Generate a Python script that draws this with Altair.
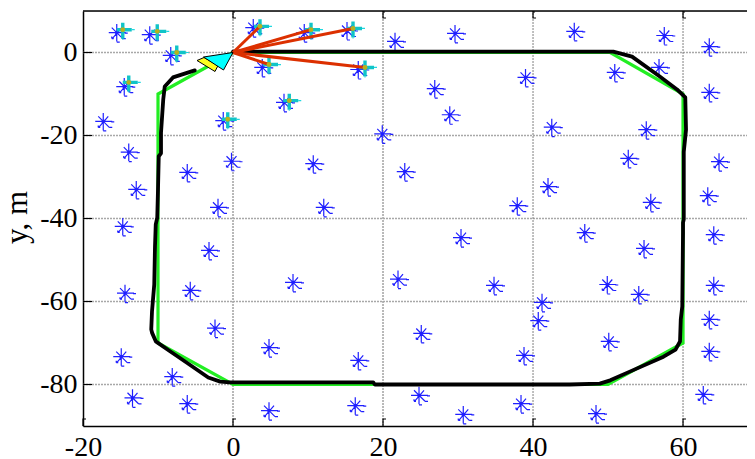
import altair as alt
import pandas as pd

x_ticks = [-20, 0, 20, 40, 60]
y_ticks = [0, -20, -40, -60, -80]
x_min, x_max = -20, 68.53
y_min, y_max = -90, 10

star_x = [-15.5, -11.1, -8.3, -14.5, -17.3, -1.3, 2.7, 3.9, 9.5, 15.2, 16.7, 6.8, 19.9,
          45.5, 57.5, 63.5, 50.9, 56.8, 63.5, 55.1, 21.6, 29.6, 26.9, 28.9, 39.0, 42.5,
          10.7, 22.9, 12.1, 30.4, -0.2, -13.9, -12.9, -14.7, -14.4, -6.1, -2.0, -3.2, -5.7, -2.4,
          52.7, 64.8, 42.0, 63.3, 37.9, 55.7, 46.9, 64.1, 54.8, 34.8, 49.9, 64.1, 54.1, 41.2, 63.5,
          8.0, 22.0, 40.7, 25.1, 4.8, 16.7, 38.8, 4.8, 16.3, 24.8, 30.7, 38.4,
          50.1, 63.5, 62.7, 48.4, -14.9, -8.1, -13.4, -6.1]
star_y = [4.8, 4.3, -0.7, -8.2, -16.6, -16.4, 6.0, -3.6, 4.8, 5.3, -4.1, -12.0, -19.6,
          5.1, 4.1, 1.4, -4.8, -3.6, -9.6, -18.6, 2.7, 4.6, -8.7, -15.0, -6.0, -18.0,
          -26.8, -28.7, -37.3, -44.6, -26.2, -24.0, -33.0, -41.9, -58.0, -28.9, -37.3, -47.7, -57.3, -66.4,
          -25.5, -26.3, -32.3, -34.5, -36.9, -36.1, -43.4, -43.9, -47.2, -56.1, -55.9, -56.1, -58.3, -60.2, -64.3,
          -55.4, -54.6, -64.6, -67.7, -71.1, -74.2, -73.0, -86.3, -85.1, -82.6, -87.2, -84.6,
          -69.6, -72.0, -82.4, -87.0, -73.3, -78.1, -83.2, -84.6]

seen_x = [-14.7, -10.1, -7.5, -13.9, -0.7, 3.6, 4.8, 10.4, 16.0, 17.6, 7.5]
seen_y = [5.5, 5.1, 0.0, -7.2, -16.1, 6.3, -2.9, 5.5, 5.8, -3.6, -11.6]

ray_x = [3.6, 4.8, 10.4, 16.0, 17.6]
ray_y = [6.3, -2.9, 5.5, 5.8, -3.6]

ref_x = [0, 50.3, 60, 60, 50, 0, -10, -10, 0]
ref_y = [0, 0, -10, -70, -80, -80, -70, -10, 0]

est_x = [0, 50.7, 53.2, 56.9, 59.2, 60.3, 60.4, 60.1, 60.1, 60.0, 60.0, 59.9, 59.7, 59.6, 59.0, 57.4,
         52.9, 50.3, 48.9, 44.9, 18.9, 18.7, 16.0, -0.4, -1.7, -3.3, -6.2, -8.4, -10.3, -10.8,
         -10.9, -10.8, -10.5, -10.4, -10.3, -10.1, -10.0, -9.9, -9.6, -9.6, -9.6, -9.3, -9.1, -8.0, -5.1]
est_y = [0.2, 0.2, -1.0, -5.8, -8.9, -10.8, -18.6, -23.9, -40.2, -41.0, -43.4, -61.2, -64.3, -69.6, -71.6, -73.3,
         -76.9, -79.0, -79.8, -80.0, -80.0, -79.5, -79.5, -79.5, -79.3, -78.3, -74.7, -72.0, -69.6, -67.5,
         -66.7, -62.4, -55.9, -46.7, -41.4, -39.8, -33.0, -25.0, -24.3, -20.0, -19.3, -11.3, -8.2, -6.0, -4.3]

FONT = "Liberation Serif"
STAR = ("M-8 0L9 0M0-8.5L0 9M-5-5L6 6M5-5L-4.5 6M8 0.5L11 0.5M6 6L9 6"
        "M0 9.5L3 9.5M-5 6L-3 6M-5 4L-5 6M-1-1L1-1L1 1L-1 1Z")
PLUS_BAR = "M-6 0L9 0M0-7L0 9"
PLUS_TIP = "M9 0L12 0M0 9L0 10"
TRI = "M0 0L-29.5 4.5L-9.5 17.5Z"
RECT = "M-36 8L-29 5L-15 13L-18 19Z"

sx = alt.Scale(domain=[x_min, x_max], nice=False, zero=False)
sy = alt.Scale(domain=[y_min, y_max], nice=False, zero=False)

axis_x = alt.Axis(values=x_ticks, grid=False, ticks=False, title=None, labelFont=FONT, labelFontSize=28,
                  labelColor="black", labelPadding=7, labelExpr="'' + datum.value", domainColor="black",
                  domainWidth=1.5, labelFlush=False, labelOverlap=False)
axis_y = alt.Axis(values=y_ticks, grid=False, ticks=False, title="y, m", titleFont=FONT, titleFontSize=31,
                  titleFontWeight="normal", titleColor="black", titleX=-50, titleY=206, titleAngle=270,
                  labelFont=FONT, labelFontSize=28, labelColor="black", labelPadding=6,
                  labelExpr="'' + datum.value", domainColor="black", domainWidth=1.5,
                  labelFlush=False, labelOverlap=False)


def X(field="x"):
    return alt.X(f"{field}:Q", scale=sx, axis=axis_x)


def Y(field="y"):
    return alt.Y(f"{field}:Q", scale=sy, axis=axis_y)


stars = pd.DataFrame({"x": star_x, "y": star_y})
seen = pd.DataFrame({"x": seen_x, "y": seen_y})
rays = pd.DataFrame({"x": ray_x, "y": ray_y, "x0": [0] * 5, "y0": [0] * 5})
ref = pd.DataFrame({"x": ref_x, "y": ref_y, "i": range(len(ref_x))})
est = pd.DataFrame({"x": est_x, "y": est_y, "i": range(len(est_x))})
origin = pd.DataFrame({"x": [0], "y": [0]})
xt = pd.DataFrame({"x": x_ticks, "lo": [y_min] * 5, "hi": [y_max] * 5})
yt = pd.DataFrame({"y": y_ticks, "lo": [x_min] * 5, "hi": [x_max] * 5})
xtop = pd.DataFrame({"x": x_ticks, "y": [y_max] * 5})
xbot = pd.DataFrame({"x": x_ticks, "y": [y_min] * 5})
yl = pd.DataFrame({"x": [x_min] * 5, "y": y_ticks})
frame = pd.DataFrame({"lo": [x_min], "hi": [x_max], "y": [y_max]})

grid_h = alt.Chart(yt).mark_rule(color="#a8a8a8", strokeWidth=1.6, strokeDash=[2, 1]).encode(
    y=Y(), x=X("lo"), x2=alt.X2("hi"))
grid_v1 = alt.Chart(xt[xt.x.isin([0, 20])]).mark_rule(color="#a8a8a8", strokeWidth=1.6, strokeDash=[2, 1]).encode(
    x=X(), y=Y("lo"), y2=alt.Y2("hi"))
grid_v2 = alt.Chart(xt[xt.x.isin([40, 60])]).mark_rule(color="#808080", strokeWidth=1, strokeDash=[2, 1]).encode(
    x=X(), y=Y("lo"), y2=alt.Y2("hi"))
top = alt.Chart(frame).mark_rule(color="black", strokeWidth=1.5).encode(y=Y(), x=X("lo"), x2=alt.X2("hi"))


def glyph(df, path, color, width=1.0, size=4):
    return alt.Chart(df).mark_point(shape=path, size=size, stroke=color, strokeWidth=width, fill=None,
                                    opacity=1).encode(x=X(), y=Y())


tick_top = glyph(xtop[xtop.x > -20], "M0 0L0 7L3 7M0 1L2 1", "black", 1.2)
tick_bot = glyph(xbot, "M0 0L0-7L3-7", "black", 1.2)
tick_l = glyph(yl, "M0 0L9 0", "black", 1.2)

star_layer = glyph(stars, STAR, "#1f1fff", 1.2)
green = alt.Chart(ref).mark_line(color="#22ee22", strokeWidth=3.2).encode(x=X(), y=Y(), order="i:Q")
black = alt.Chart(est).mark_line(color="black", strokeWidth=3.8, strokeJoin="round", strokeCap="round").encode(
    x=X(), y=Y(), order="i:Q")
plus_tip = glyph(seen, PLUS_TIP, "#20d8e0", 1.2)
plus_bar = glyph(seen, PLUS_BAR, "#10c4c8", 3.4)
red = alt.Chart(rays).mark_rule(color="#dc3000", strokeWidth=3).encode(
    x=X("x0"), y=Y("y0"), x2=alt.X2("x"), y2=alt.Y2("y"))
olive = alt.Chart(seen).mark_circle(color="#b8b020", size=24, opacity=1).encode(x=X(), y=Y())
rect = alt.Chart(origin).mark_point(shape=RECT, size=4, fill="#ffff20", filled=True, stroke="black", strokeWidth=1,
                                    opacity=1).encode(x=X(), y=Y())
tri = alt.Chart(origin).mark_point(shape=TRI, size=4, fill="#00ffff", filled=True, stroke="black", strokeWidth=1,
                                   opacity=1).encode(x=X(), y=Y())

chart = alt.layer(grid_h, grid_v1, grid_v2, star_layer, green, black, plus_tip, plus_bar, red, olive,
                  rect, tri, top, tick_top, tick_bot, tick_l).properties(
    width=664, height=415,
    autosize=alt.AutoSizeParams(type="none"),
    padding={"left": 75, "top": 3, "right": 0, "bottom": 33},
).configure_view(stroke=None).configure(background="white")

chart.save("out.html", embed_options={"renderer": "svg", "actions": False})
